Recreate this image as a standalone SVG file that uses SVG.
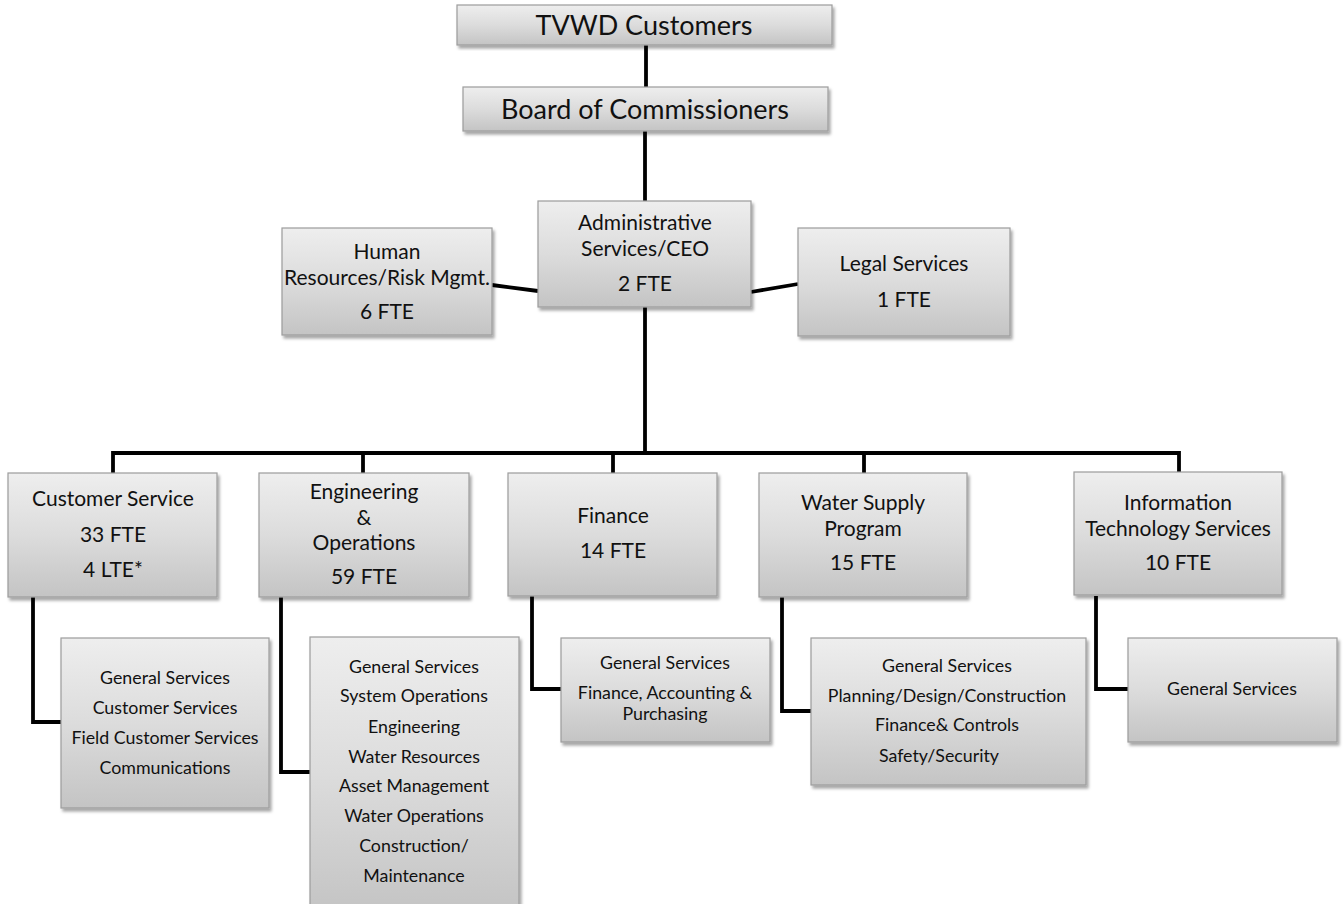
<svg xmlns="http://www.w3.org/2000/svg" width="1343" height="904" viewBox="0 0 1343 904">
<defs>
<linearGradient id="g" x1="0" y1="0" x2="0" y2="1">
<stop offset="0" stop-color="#eeeeee"/>
<stop offset="0.5" stop-color="#dcdcdc"/>
<stop offset="1" stop-color="#c4c4c4"/>
</linearGradient>
<filter id="sh" x="-10%" y="-10%" width="125%" height="125%">
<feDropShadow dx="2" dy="3" stdDeviation="1.5" flood-color="#000" flood-opacity="0.35"/>
</filter>
</defs>
<style>
.box{fill:url(#g);stroke:#9c9c9c;stroke-width:1.2;filter:url(#sh)}
.ln{fill:none;stroke:#000;stroke-width:3.8;stroke-linejoin:miter}
text{font-family:Lato,"Liberation Sans",sans-serif;fill:#111;text-anchor:middle}
.t1{font-size:27px}
.t2{font-size:21px}
.t3{font-size:17.8px}
</style>
<rect width="1343" height="904" fill="#fff"/>
<g id="connectors">
<path class="ln" d="M646 45V87"/>
<path class="ln" d="M645 131V201"/>
<path class="ln" d="M492 285L538 291"/>
<path class="ln" d="M751 292L798 284"/>
<path class="ln" d="M645 307V453"/>
<path class="ln" d="M113 473V453H1179V473"/>
<path class="ln" d="M363 453V473"/>
<path class="ln" d="M613 453V473"/>
<path class="ln" d="M864 453V473"/>
<path class="ln" d="M33 597V722H61"/>
<path class="ln" d="M281 597V772H310"/>
<path class="ln" d="M532 596V689H561"/>
<path class="ln" d="M782 597V711H811"/>
<path class="ln" d="M1096 596V689H1128"/>
</g>
<g id="tvwd"><rect class="box" x="457" y="5" width="375" height="40"/><text class="t1" x="644" y="35">TVWD Customers</text></g>
<g id="board"><rect class="box" x="463" y="87" width="365" height="44"/><text class="t1" x="645" y="119">Board of Commissioners</text></g>
<g id="admin"><rect class="box" x="538" y="201" width="213" height="106"/>
<text class="t2" x="645" y="230">Administrative</text><text class="t2" x="645" y="256">Services/CEO</text><text class="t2" x="645" y="291">2 FTE</text></g>
<g id="hr"><rect class="box" x="282" y="228" width="210" height="107"/>
<text class="t2" x="387" y="259">Human</text><text class="t2" x="387" y="285">Resources/Risk Mgmt.</text><text class="t2" x="387" y="319">6 FTE</text></g>
<g id="legal"><rect class="box" x="798" y="228" width="212" height="108"/>
<text class="t2" x="904" y="271">Legal Services</text><text class="t2" x="904" y="307">1 FTE</text></g>
<g id="cs"><rect class="box" x="8" y="473" width="209" height="124"/>
<text class="t2" x="113" y="506">Customer Service</text><text class="t2" x="113" y="542">33 FTE</text><text class="t2" x="113" y="577">4 LTE*</text></g>
<g id="eng"><rect class="box" x="259" y="473" width="210" height="124"/>
<text class="t2" x="364" y="499">Engineering</text><text class="t2" x="364" y="525">&amp;</text><text class="t2" x="364" y="550">Operations</text><text class="t2" x="364" y="584">59 FTE</text></g>
<g id="fin"><rect class="box" x="508" y="473" width="209" height="123"/>
<text class="t2" x="613" y="523">Finance</text><text class="t2" x="613" y="558">14 FTE</text></g>
<g id="wsp"><rect class="box" x="759" y="473" width="208" height="124"/>
<text class="t2" x="863" y="510">Water Supply</text><text class="t2" x="863" y="536">Program</text><text class="t2" x="863" y="570">15 FTE</text></g>
<g id="it"><rect class="box" x="1074" y="472" width="208" height="123"/>
<text class="t2" x="1178" y="510">Information</text><text class="t2" x="1178" y="536">Technology Services</text><text class="t2" x="1178" y="570">10 FTE</text></g>
<g id="cs-sub"><rect class="box" x="61" y="638" width="208" height="170"/>
<text class="t3" x="165" y="684">General Services</text><text class="t3" x="165" y="714">Customer Services</text><text class="t3" x="165" y="744">Field Customer Services</text><text class="t3" x="165" y="774">Communications</text></g>
<g id="eng-sub"><rect class="box" x="310" y="637" width="209" height="275"/>
<text class="t3" x="414" y="673">General Services</text><text class="t3" x="414" y="702">System Operations</text><text class="t3" x="414" y="733">Engineering</text><text class="t3" x="414" y="763">Water Resources</text><text class="t3" x="414" y="792">Asset Management</text><text class="t3" x="414" y="822">Water Operations</text><text class="t3" x="414" y="852">Construction/</text><text class="t3" x="414" y="882">Maintenance</text></g>
<g id="fin-sub"><rect class="box" x="561" y="638" width="209" height="104"/>
<text class="t3" x="665" y="669">General Services</text><text class="t3" x="665" y="699">Finance, Accounting &amp;</text><text class="t3" x="665" y="720">Purchasing</text></g>
<g id="wsp-sub"><rect class="box" x="811" y="638" width="275" height="147"/>
<text class="t3" x="947" y="672">General Services</text><text class="t3" x="947" y="702">Planning/Design/Construction</text><text class="t3" x="947" y="731">Finance&amp; Controls</text><text class="t3" x="939" y="762">Safety/Security</text></g>
<g id="it-sub"><rect class="box" x="1128" y="638" width="209" height="104"/>
<text class="t3" x="1232" y="695">General Services</text></g>
</svg>
